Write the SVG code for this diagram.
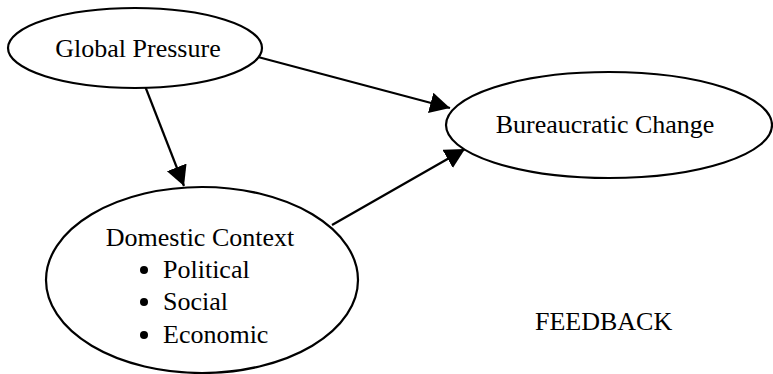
<svg xmlns="http://www.w3.org/2000/svg" width="773" height="374" viewBox="0 0 773 374">
<style>
.node ellipse{fill:#fff;stroke:#000;stroke-width:2.2}
text{font-family:"Liberation Serif","Times New Roman",serif;font-size:26px;fill:#000}
.c{text-anchor:middle}
.edge{stroke:#000;stroke-width:2.2;fill:none;marker-end:url(#ah)}
</style>
<defs>
<marker id="ah" markerUnits="userSpaceOnUse" markerWidth="22" markerHeight="22" refX="20" refY="10.5" orient="auto">
<path d="M0,0 L20,10.5 L0,21 z" fill="#000"/>
</marker>
</defs>
<rect width="773" height="374" fill="#fff"/>
<g id="connectors">
<line class="edge" x1="258" y1="57" x2="450" y2="108"/>
<line class="edge" x1="145" y1="86" x2="184" y2="186"/>
<line class="edge" x1="332" y1="225" x2="465" y2="149"/>
</g>
<g id="global-pressure" class="node">
<ellipse cx="135" cy="48" rx="127" ry="40"/>
<text class="c" x="138" y="57">Global Pressure</text>
</g>
<g id="bureaucratic-change" class="node">
<ellipse cx="609" cy="125" rx="163" ry="53"/>
<text class="c" x="605" y="133">Bureaucratic Change</text>
</g>
<g id="domestic-context" class="node">
<ellipse cx="202" cy="280" rx="156" ry="93"/>
<text class="c" x="200" y="246">Domestic Context</text>
<circle cx="144" cy="270" r="4"/>
<text x="163" y="278">Political</text>
<circle cx="144" cy="302" r="4"/>
<text x="163" y="310">Social</text>
<circle cx="144" cy="335" r="4"/>
<text x="163" y="343">Economic</text>
</g>
<text id="feedback" x="535" y="330">FEEDBACK</text>
</svg>
